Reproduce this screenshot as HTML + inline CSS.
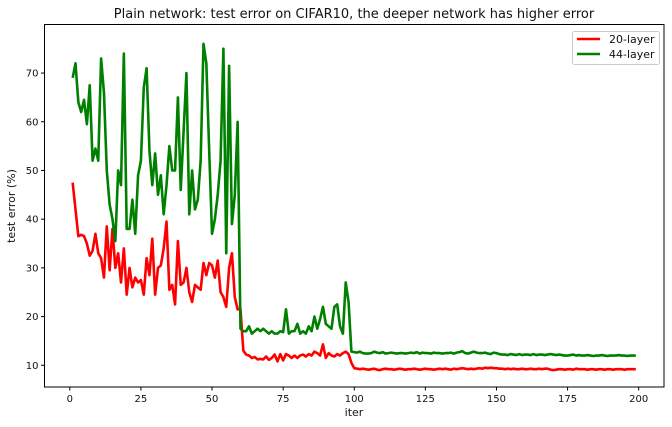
<!DOCTYPE html>
<html><head><meta charset="utf-8">
<style>
html,body{margin:0;padding:0;background:#fff;}
svg{display:block;font-family:"DejaVu Sans","Liberation Sans",sans-serif;}
</style></head>
<body>
<svg id="chart" width="672" height="427" viewBox="0 0 672 427" xmlns="http://www.w3.org/2000/svg">
<rect x="0" y="0" width="672" height="427" fill="#fff"/>
<text x="354" y="18" font-size="13" text-anchor="middle" fill="#111">Plain network: test error on CIFAR10, the deeper network has higher error</text>
<g id="plot"></g>
<rect x="44.5" y="24.5" width="619.5" height="362.5" fill="none" stroke="#000" stroke-width="1"/>
<text x="354" y="416" font-size="11" text-anchor="middle" fill="#111">iter</text>
<text transform="translate(15,206) rotate(-90)" font-size="11" text-anchor="middle" fill="#111">test error (%)</text>
<g>
<rect x="572.5" y="31.5" width="87" height="33" rx="2" fill="#fff" stroke="#ccc"/>
<line x1="577" y1="39" x2="600" y2="39" stroke="red" stroke-width="2.5"/>
<text x="609" y="43" font-size="11" fill="#111">20-layer</text>
<line x1="577" y1="54" x2="600" y2="54" stroke="green" stroke-width="2.5"/>
<text x="609" y="58" font-size="11" fill="#111">44-layer</text>
</g>
</svg>
<script>
const xTicks=[0,25,50,75,100,125,150,175,200];
const yTicks=[10,20,30,40,50,60,70];
const red20=[47.5,42,36.5,36.8,36.5,35,32.5,33.5,37,33,32,28,38.5,29.5,38,30,33,27,34,24.5,
30,26,28,27,27.5,24.5,32,28.5,36,24.5,30,30.5,34,39.5,25.5,26.5,22.5,35.5,26.5,27,
30,25,23,26.5,26,25.5,31,28.5,31,30.5,28,31.5,25,24,22,30,33,24,21.5,21.5,
13,12.2,12,11.5,11.7,11.2,11.3,11.2,11.8,11.1,11.5,12.2,10.8,12.3,11,12.3,12,11.5,12,11.5,
12,12.2,11.8,12.3,12,12.8,12.5,12,14.3,11.5,12.5,12,11.8,12.3,12,12.5,12.8,12.3,10.5,9.4,
9.3,9.2,9.3,9.2,9.1,9.2,9.3,9.1,9.0,9.2,9.3,9.2,9.2,9.1,9.2,9.3,9.2,9.1,9.2,9.2,
9.3,9.2,9.1,9.2,9.3,9.2,9.2,9.1,9.2,9.3,9.2,9.3,9.2,9.1,9.3,9.2,9.3,9.4,9.3,9.2,
9.3,9.2,9.3,9.4,9.3,9.5,9.4,9.5,9.4,9.4,9.3,9.3,9.2,9.3,9.2,9.3,9.2,9.2,9.3,9.2,
9.2,9.3,9.2,9.2,9.3,9.2,9.3,9.3,9.1,9.0,9.1,9.2,9.2,9.1,9.2,9.2,9.1,9.3,9.2,9.2,
9.2,9.1,9.2,9.2,9.1,9.2,9.2,9.1,9.2,9.2,9.1,9.2,9.2,9.2,9.1,9.2,9.2,9.2,9.2];
const green44=[69,72,64,62,64.5,59.5,67.5,52,54.5,52,73,66,50,43,40,35.5,50,47,74,38,
38,44,37,49,52,67,71,54,47,53.5,45,49,41,47,55,50,50,65,46,58,
70,41,50,42,44,52,76,72,54,37,40,45,52,75,33,71.5,39,45,60,17.5,
17,17,18,16.5,17,17.5,17,17.5,17,16.5,17,16.5,16.5,17,16.8,21.5,16.5,17,17,18.5,
16.5,17,16.5,18,17,20,17.5,19.5,22,18.5,18,17.5,22,22.5,18,16.5,27,23,12.8,12.7,
12.6,12.8,12.5,12.4,12.4,12.5,12.8,12.6,12.5,12.7,12.4,12.5,12.6,12.5,12.4,12.5,12.5,12.4,12.5,12.6,
12.5,12.7,12.4,12.6,12.5,12.5,12.4,12.6,12.5,12.5,12.4,12.5,12.5,12.6,12.4,12.6,12.7,12.9,12.5,12.4,
12.6,12.8,12.6,12.5,12.5,12.6,12.4,12.3,12.6,12.5,12.3,12.2,12.2,12.1,12.3,12.2,12.1,12.3,12.1,12.2,
12.2,12.1,12.3,12.1,12.2,12.2,12.1,12.2,12.3,12.2,12.1,12.2,12.1,12.0,12.0,12.1,12.2,12.0,12.1,12.0,
12.0,12.1,12.0,11.9,12.0,12.0,12.1,12.0,11.9,12.0,12.0,12.0,12.1,12.0,12.0,11.9,12.0,12.0,12.0];

const X0=44.5,X1=664,Y0=24.5,Y1=387;
const xMin=-8.9,xMax=208.9,yMin=5.54,yMax=79.97;
function sx(v){return X0+(v-xMin)/(xMax-xMin)*(X1-X0);}
function sy(v){return Y1-(v-yMin)/(yMax-yMin)*(Y1-Y0);}
const NS='http://www.w3.org/2000/svg';
const g=document.getElementById('plot');
function mk(tag,attrs){const e=document.createElementNS(NS,tag);for(const k in attrs)e.setAttribute(k,attrs[k]);g.appendChild(e);return e;}
xTicks.forEach(t=>{
  const l=mk('line',{x1:sx(t),x2:sx(t),y1:Y1,y2:Y1+3.5,stroke:'#000'});
  
  
  const tx=mk('text',{x:sx(t),y:Y1+15,'font-size':10,'text-anchor':'middle',fill:'#111'});
  tx.textContent=t;
  
  
});
yTicks.forEach(t=>{
  const l=mk('line',{x1:X0-3.5,x2:X0,y1:sy(t),y2:sy(t),stroke:'#000'});
  
  
  const tx=mk('text',{x:X0-6,y:sy(t)+3.5,'font-size':10,'text-anchor':'end',fill:'#111'});
  tx.textContent=t;
  
  
});
function line(arr,color,name){
  const d=arr.map((v,i)=>(i?'L':'M')+sx(i+1).toFixed(2)+','+sy(v).toFixed(2)).join('');
  const p=mk('path',{d:d,fill:'none',stroke:color,'stroke-width':2.6,'stroke-linejoin':'round'});
  
  
}
line(red20,'red','series-20-layer');
line(green44,'green','series-44-layer');
</script>
</body></html>
